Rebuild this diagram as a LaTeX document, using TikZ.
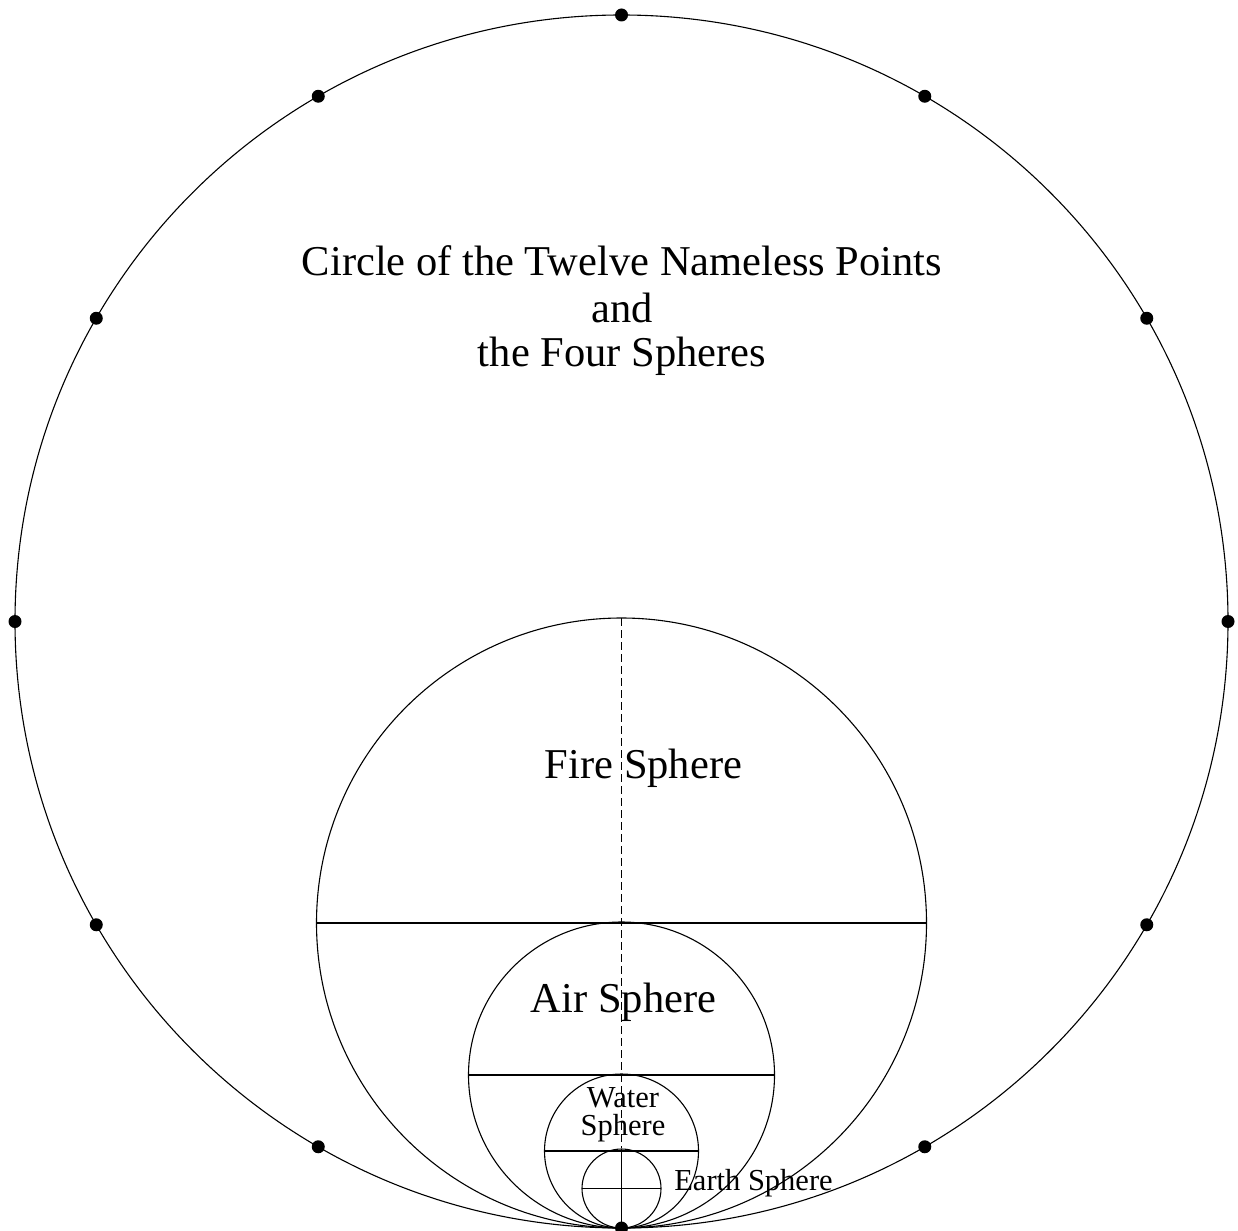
\documentclass[tikz,border=0pt]{standalone}
\usepackage{fontspec}
\setmainfont{Liberation Serif}
\usetikzlibrary{calc}
\begin{document}
\begin{tikzpicture}[x=1pt,y=-1pt,
  line/.style={line width=1.1pt,black},
  dashline/.style={line width=1.1pt,black,dash pattern=on 8pt off 4pt},
  pt/.style={fill=black},
  bigtxt/.style={font=\fontsize{42.5}{46}\selectfont,inner sep=0pt,anchor=base},
  smalltxt/.style={font=\fontsize{30.5}{34}\selectfont,inner sep=0pt,anchor=base}]
\useasboundingbox (0,0) rectangle (1238,1230);
\coordinate (O) at (621.5,621.5);
% outer circle
\draw[line] (O) circle[radius=606.5];
\foreach \a [count=\i] in {90,120,150,180,210,240,270,300,330,0,30,60}
  \fill[pt] ($(O)+(\a:606.5)$) circle[radius=6.5];
% spheres
\coordinate (F) at (621.5,923);
\coordinate (A) at (621.5,1075);
\coordinate (W) at (621.5,1151);
\coordinate (E) at (621.5,1188.5);
\draw[line] (F) circle[radius=305];
\draw[line] (A) circle[radius=153];
\draw[line] (W) circle[radius=77];
\draw[line] (E) circle[radius=39.5];
\draw[line] ($(F)+(-305,0)$) -- ($(F)+(305,0)$);
\draw[line] ($(A)+(-153,0)$) -- ($(A)+(153,0)$);
\draw[line] ($(W)+(-77,0)$) -- ($(W)+(77,0)$);
\draw[line] ($(E)+(-39.5,0)$) -- ($(E)+(39.5,0)$);
\draw[line] ($(E)+(0,-39.5)$) -- ($(E)+(0,39.5)$);
\draw[dashline] ($(F)+(0,-305)$) -- ($(W)+(0,-3)$);
% texts
\node[bigtxt] (t1) at (622,276) {Circle of the Twelve Nameless Points};
\node[bigtxt] (t2) at (622,322) {and};
\node[bigtxt] (t3) at (622,366) {the Four Spheres};
\node[bigtxt] (fire) at (643.5,778) {Fire Sphere};
\node[bigtxt] (air) at (623.5,1012) {Air Sphere};
\node[smalltxt] (w1) at (623,1107) {Water};
\node[smalltxt] (w2) at (623,1135) {Sphere};
\node[smalltxt] (earth) at (753.5,1190) {Earth Sphere};
\end{tikzpicture}
\end{document}
